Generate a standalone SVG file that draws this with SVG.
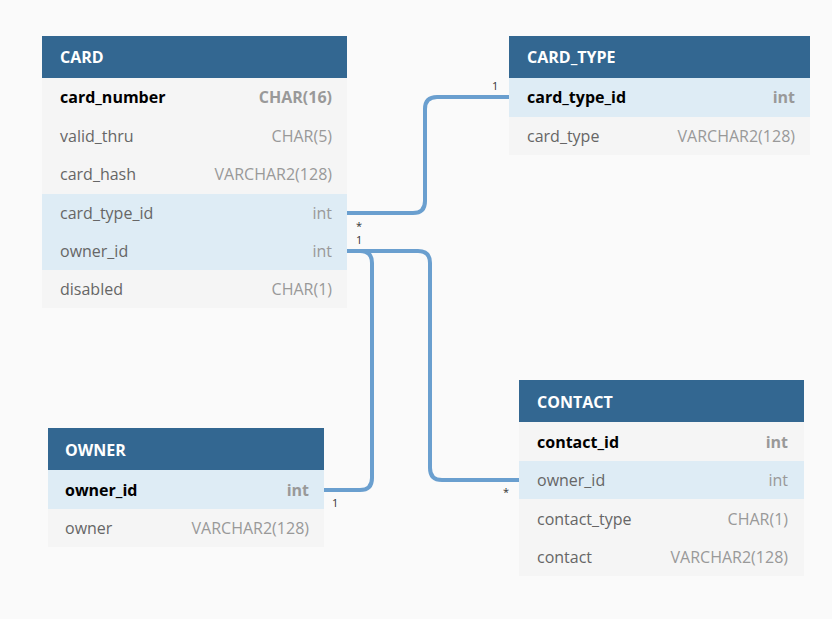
<svg xmlns="http://www.w3.org/2000/svg" width="832" height="619" viewBox="0 0 832 619">
<style>
.hd{fill:#336791}
.ht{font-family:"Open Sans","Liberation Sans",sans-serif;font-size:16px;font-weight:bold;fill:#ffffff}
.r{fill:#f5f5f5}
.rb{fill:#deecf5}
.n{font-family:"Open Sans","Liberation Sans",sans-serif;font-size:16px;fill:#666666}
.nb{font-family:"Open Sans","Liberation Sans",sans-serif;font-size:16px;font-weight:bold;fill:#000000}
.t{font-family:"Open Sans","Liberation Sans",sans-serif;font-size:16px;fill:#999999;text-anchor:end}
.tb{font-family:"Open Sans","Liberation Sans",sans-serif;font-size:16px;font-weight:bold;fill:#999999;text-anchor:end}
.c{fill:none;stroke:#6a9fcf;stroke-width:4}
.l{font-family:"Open Sans","Liberation Sans",sans-serif;font-size:11px;fill:#333333}
</style>
<rect width="832" height="619" fill="#fafafa"/>
<g id="connectors">
<path class="c" d="M347,213 H413 Q425,213 425,201 V109 Q425,97 437,97 H509"/>
<path class="c" d="M347,251 H360 Q372,251 372,263 V478 Q372,490 360,490 H324"/>
<path class="c" d="M347,251 H418 Q430,251 430,263 V468 Q430,480 442,480 H519"/>
<text class="l" x="356" y="230">*</text>
<text class="l" x="356" y="244">1</text>
<text class="l" x="492" y="90">1</text>
<text class="l" x="332" y="507">1</text>
<text class="l" x="503" y="496">*</text>
</g>
<g id="card">
<rect class="hd" x="42" y="36" width="305" height="42"/>
<text class="ht" x="60" y="63">CARD</text>
<rect class="r" x="42" y="78" width="305" height="116"/>
<rect class="rb" x="42" y="194" width="305" height="76"/>
<rect class="r" x="42" y="270" width="305" height="38"/>
<text class="nb" x="60" y="103">card_number</text><text class="tb" x="332" y="103">CHAR(16)</text>
<text class="n" x="60" y="142">valid_thru</text><text class="t" x="332" y="142">CHAR(5)</text>
<text class="n" x="60" y="180">card_hash</text><text class="t" x="332" y="180">VARCHAR2(128)</text>
<text class="n" x="60" y="219">card_type_id</text><text class="t" x="332" y="219">int</text>
<text class="n" x="60" y="257">owner_id</text><text class="t" x="332" y="257">int</text>
<text class="n" x="60" y="295">disabled</text><text class="t" x="332" y="295">CHAR(1)</text>
</g>
<g id="card_type">
<rect class="hd" x="509" y="36" width="301" height="42"/>
<text class="ht" x="527" y="63">CARD_TYPE</text>
<rect class="rb" x="509" y="78" width="301" height="39"/>
<rect class="r" x="509" y="117" width="301" height="38"/>
<text class="nb" x="527" y="103">card_type_id</text><text class="tb" x="795" y="103">int</text>
<text class="n" x="527" y="142">card_type</text><text class="t" x="795" y="142">VARCHAR2(128)</text>
</g>
<g id="owner">
<rect class="hd" x="48" y="428" width="276" height="42"/>
<text class="ht" x="65" y="456">OWNER</text>
<rect class="rb" x="48" y="470" width="276" height="39"/>
<rect class="r" x="48" y="509" width="276" height="38"/>
<text class="nb" x="65" y="496">owner_id</text><text class="tb" x="309" y="496">int</text>
<text class="n" x="65" y="534">owner</text><text class="t" x="309" y="534">VARCHAR2(128)</text>
</g>
<g id="contact">
<rect class="hd" x="519" y="380" width="285" height="42"/>
<text class="ht" x="537" y="408">CONTACT</text>
<rect class="r" x="519" y="422" width="285" height="39"/>
<rect class="rb" x="519" y="461" width="285" height="38"/>
<rect class="r" x="519" y="499" width="285" height="77"/>
<text class="nb" x="537" y="448">contact_id</text><text class="tb" x="788" y="448">int</text>
<text class="n" x="537" y="486">owner_id</text><text class="t" x="788" y="486">int</text>
<text class="n" x="537" y="525">contact_type</text><text class="t" x="788" y="525">CHAR(1)</text>
<text class="n" x="537" y="563">contact</text><text class="t" x="788" y="563">VARCHAR2(128)</text>
</g>
</svg>
